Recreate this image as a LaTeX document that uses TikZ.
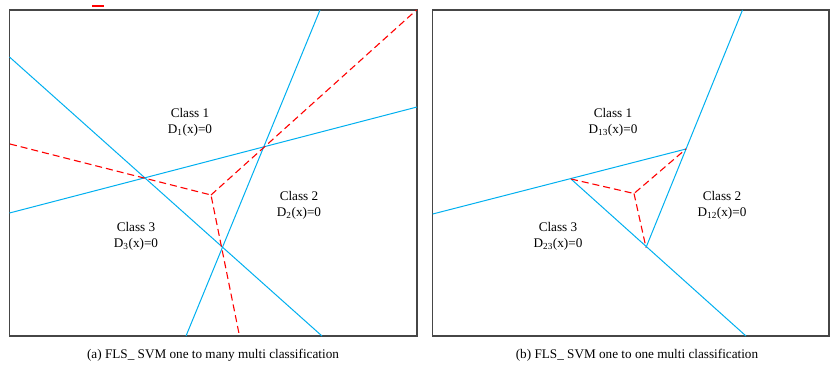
\documentclass[tikz,border=0pt]{standalone}
\usepackage{fontspec}
\setmainfont{Liberation Serif}
\definecolor{bound}{RGB}{0,176,240}
\definecolor{frame}{RGB}{70,70,70}
\tikzset{
  panel/.style={draw=frame,line width=1.3pt},
  svmline/.style={draw=bound,line width=1pt},
  midline/.style={draw=red,line width=1.1pt,dash pattern=on 7pt off 4pt},
  lbl/.style={align=center,font=\fontsize{13.2}{16}\selectfont,inner sep=0pt},
  captext/.style={font=\fontsize{13.2}{15}\selectfont,inner sep=0pt}
}
\begin{document}
\begin{tikzpicture}[x=1pt,y=-1pt]
\useasboundingbox (0,0) rectangle (830,367);
\fill[white] (0,0) rectangle (830,367);

% short red mark above the left panel
\draw[red,line width=1.2pt] (92,6) -- (104,6);

% ---------- (a) one to many ----------
\draw[panel] (9.5,10) rectangle (417,336);
\coordinate (a1) at (9.5,57);   \coordinate (a2) at (322,336);
\coordinate (b1) at (320,10);   \coordinate (b2) at (186,336);
\coordinate (c1) at (9.5,213);  \coordinate (c2) at (417,107);
\draw[svmline] (a1) -- (a2);
\draw[svmline] (b1) -- (b2);
\draw[svmline] (c1) -- (c2);
\coordinate (m) at (211,195);
\coordinate (r1) at (10,144);
\coordinate (r2) at (239.5,336);
\coordinate (r3) at (416.5,10);
\draw[midline] (r1) -- (m) -- (r2);
\draw[midline] (m) -- (r3);

\node[lbl] (cl1a) at (190,122) {Class 1\\D\textsubscript{1}(x)=0};
\node[lbl] (cl2a) at (299,205) {Class 2\\D\textsubscript{2}(x)=0};
\node[lbl] (cl3a) at (136,236) {Class 3\\D\textsubscript{3}(x)=0};
\node[captext] (capa) at (213,355) {(a) FLS\_ SVM one to many multi classification};

% ---------- (b) one to one ----------
\draw[panel] (432.7,10) rectangle (829,336);
\coordinate (p) at (686,149);
\coordinate (q) at (571,179);
\coordinate (s) at (646,247.5);
\coordinate (o) at (634,193.5);
\coordinate (pl) at (432.7,214);
\coordinate (st) at (742.5,10);
\coordinate (qb) at (746,336);
\draw[svmline] (pl) -- (p);
\draw[svmline] (st) -- (s);
\draw[svmline] (q) -- (qb);
\draw[midline] (q) -- (o) -- (p);
\draw[midline] (o) -- (s);

\node[lbl] (cl1b) at (613,122) {Class 1\\D\textsubscript{13}(x)=0};
\node[lbl] (cl2b) at (722,205) {Class 2\\D\textsubscript{12}(x)=0};
\node[lbl] (cl3b) at (558,236) {Class 3\\D\textsubscript{23}(x)=0};
\node[captext] (capb) at (637,355) {(b) FLS\_ SVM one to one multi classification};
\end{tikzpicture}
\end{document}
